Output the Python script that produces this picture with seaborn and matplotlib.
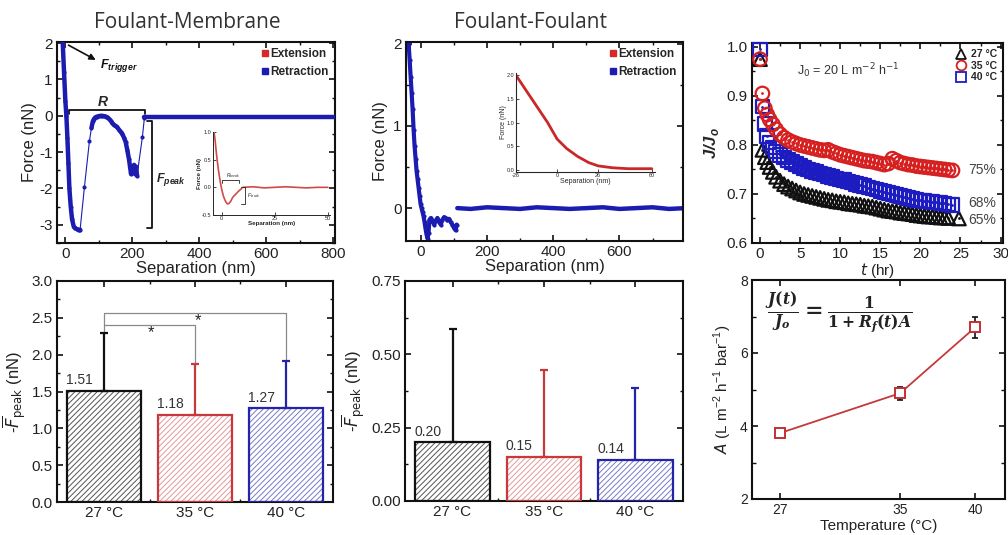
import numpy as np
import pandas as pd
import matplotlib
matplotlib.use("Agg")
import matplotlib.pyplot as plt
import seaborn as sns
from matplotlib.lines import Line2D
from matplotlib.ticker import MultipleLocator, FixedLocator, FormatStrFormatter

# ---------------- data ----------------
# Foulant-Membrane retraction curve (nm, nN)
fm_sep = [-8, -4, 0, 3, 6, 9, 12, 16, 20, 25, 30, 35, 40, 44,
          57, 72, 78,
          82, 86, 90, 95, 100, 105, 110, 115, 120, 125, 130, 135, 140, 145, 150, 155,
          160, 165, 170, 175, 180, 185, 190, 193, 196, 199, 202, 205, 208, 211, 214,
          230, 236]
fm_force = [2.03, 1.2, 0.4, 0.0, -0.6, -1.3, -2.0, -2.5, -2.85, -3.05, -3.1, -3.12, -3.15, -3.13,
            -1.95, -0.68, -0.33,
            -0.15, -0.08, -0.04, -0.02, -0.01, 0.0, 0.0, -0.01, -0.02, -0.04, -0.08, -0.13, -0.2, -0.25, -0.28, -0.32,
            -0.38, -0.44, -0.5, -0.6, -0.72, -0.95, -1.2, -1.4, -1.6, -1.4, -1.55, -1.35, -1.6, -1.4, -1.65,
            -0.58, -0.05]
fm_base_sep = [236, 300, 400, 500, 600, 700, 805]
fm_base_force = [-0.02, -0.02, -0.02, -0.02, -0.02, -0.02, -0.02]

# inset (foulant-membrane)
fmi_sep = [-3.5, -3, -2.5, -2, -1.5, -1, -0.5, 0, 0.5, 1, 1.5, 2, 2.5, 3, 3.5, 4, 4.5, 5, 5.5, 6, 8, 9.5]
fmi_force = [1.0, 0.85, 0.65, 0.48, 0.33, 0.2, 0.08, -0.02, -0.1, -0.17, -0.22, -0.26, -0.29, -0.30,
             -0.29, -0.27, -0.24, -0.2, -0.17, -0.15, -0.07, -0.02]
fmi_base_sep = [10, 15, 20, 25, 30, 35, 40, 45, 50]
fmi_base_force = [0.0, 0.01, -0.01, 0.0, 0.01, 0.0, -0.01, 0.0, 0.0]

# Foulant-Foulant retraction curve
ff_sep = [-37, -34, -31, -28, -25, -22, -19, -16, -13, -10, -7, -4, -1, 2, 5, 8, 11, 14, 17, 20, 23, 26,
          30, 35, 40, 45, 50, 55, 60, 65, 70, 75, 80, 85, 90, 95, 100, 105, 108]
ff_force = [2.0, 1.8, 1.6, 1.4, 1.2, 0.95, 0.75, 0.6, 0.45, 0.35, 0.25, 0.15, 0.05, 0.0, -0.05, -0.1,
            -0.17, -0.25, -0.32, -0.37, -0.3, -0.14,
            -0.12, -0.16, -0.2, -0.15, -0.12, -0.17, -0.2, -0.14, -0.11, -0.12, -0.15, -0.13, -0.17, -0.2,
            -0.24, -0.27, -0.2]
ff_base_sep = [110, 150, 200, 250, 300, 350, 400, 450, 500, 550, 600, 650, 700, 750, 800]
ff_base_force = [0.0, -0.01, 0.01, 0.0, -0.01, 0.01, 0.0, -0.01, 0.0, 0.01, -0.01, 0.0, 0.01, -0.01, 0.0]

# inset (foulant-foulant extension)
ffi_sep = [-26, -20, -13, -6, 0, 6, 13, 20, 26, 35, 45, 60]
ffi_force = [2.0, 1.7, 1.35, 1.0, 0.65, 0.45, 0.28, 0.15, 0.08, 0.04, 0.02, 0.02]

# Normalised flux J/Jo
time_hr = [0, 0.3, 0.6, 0.9, 1.2, 1.6, 2.0, 2.5, 3, 3.5, 4, 4.5, 5, 5.5, 6, 6.5, 7, 7.5, 8, 8.5, 9, 9.5,
           10, 10.5, 11, 11.5, 12, 12.5, 13, 13.5, 14, 14.5, 15, 15.5, 16, 16.5, 17, 17.5, 18, 18.5,
           19, 19.5, 20, 20.5, 21, 21.5, 22, 22.5, 23, 23.5, 24]
flux_27 = [0.975, 0.790, 0.775, 0.765, 0.755, 0.745, 0.735, 0.727, 0.720, 0.715, 0.711, 0.707, 0.703,
           0.700, 0.698, 0.696, 0.694, 0.692, 0.690, 0.688, 0.687, 0.685, 0.684, 0.683, 0.681, 0.680,
           0.679, 0.678, 0.676, 0.675, 0.674, 0.672, 0.670, 0.668, 0.666, 0.665, 0.664, 0.662, 0.661,
           0.660, 0.659, 0.657, 0.656, 0.655, 0.654, 0.654, 0.653, 0.652, 0.652, 0.651, 0.650]
flux_35 = [0.975, 0.905, 0.875, 0.862, 0.852, 0.842, 0.832, 0.822, 0.815, 0.810, 0.806, 0.803, 0.800,
           0.798, 0.796, 0.794, 0.792, 0.790, 0.789, 0.790, 0.786, 0.783, 0.780, 0.778, 0.776, 0.774,
           0.772, 0.770, 0.768, 0.767, 0.766, 0.764, 0.762, 0.760, 0.762, 0.772, 0.768, 0.764, 0.762,
           0.760, 0.759, 0.757, 0.756, 0.755, 0.754, 0.753, 0.752, 0.751, 0.750, 0.749, 0.748]
flux_40 = [0.995, 0.878, 0.843, 0.818, 0.805, 0.795, 0.787, 0.780, 0.774, 0.769, 0.765, 0.761, 0.757,
           0.753, 0.750, 0.747, 0.745, 0.742, 0.740, 0.737, 0.735, 0.732, 0.730, 0.728, 0.725, 0.723,
           0.720, 0.718, 0.716, 0.713, 0.711, 0.709, 0.706, 0.704, 0.702, 0.700, 0.698, 0.696, 0.694,
           0.692, 0.690, 0.688, 0.687, 0.686, 0.685, 0.684, 0.683, 0.682, 0.681, 0.679, 0.677]
flux_end_labels = ["75%", "68%", "65%"]

# Bars
temp_labels = ["27 °C", "35 °C", "40 °C"]
fm_peak = [1.51, 1.18, 1.27]
fm_err = [0.79, 0.69, 0.65]
ff_peak = [0.20, 0.15, 0.14]
ff_err = [0.385, 0.295, 0.245]

# A vs temperature
temp_c = [27, 35, 40]
A_val = [3.81, 4.90, 6.70]
A_err = [0.06, 0.18, 0.30]

# ---------------- style ----------------
sns.set_theme(style="ticks")
plt.rcParams["font.family"] = ["Liberation Sans", "DejaVu Sans"]
plt.rcParams["axes.unicode_minus"] = False
plt.rcParams["mathtext.fontset"] = "dejavusans"
plt.rcParams["mathtext.rm"] = "DejaVu Serif:bold"
plt.rcParams["mathtext.it"] = "DejaVu Serif:italic:bold"
plt.rcParams["mathtext.bf"] = "DejaVu Serif:bold"
plt.rcParams["hatch.linewidth"] = 0.7

W, H = 1008, 535
fig = plt.figure(figsize=(W / 100, H / 100), dpi=100)

BLUE = "#1c1cb0"
RED = "#d42a2a"
TXT = "#222222"


def rect(l, t, r, b):
    return [l / W, 1 - b / H, (r - l) / W, (b - t) / H]


def frame(ax, labelsize=11):
    for s in ax.spines.values():
        s.set_linewidth(1.5)
        s.set_color("#111111")
    ax.tick_params(which="both", direction="in", top=True, right=True, color="#111111")
    ax.tick_params(which="major", length=4, width=1.2, labelsize=labelsize, pad=3, labelcolor=TXT)
    ax.tick_params(which="minor", length=2.5, width=1)


def thick_runs(ax, xs, ys, color, lw, gap):
    xs = np.asarray(xs)
    ys = np.asarray(ys)
    cut = np.where(np.diff(xs) > gap)[0] + 1
    for sx, sy in zip(np.split(xs, cut), np.split(ys, cut)):
        if len(sx) > 1:
            ax.plot(sx, sy, color=color, lw=lw, solid_capstyle="round", zorder=3)


# titles
fig.text(187 / W, 1 - 22 / H, "Foulant-Membrane", ha="center", va="center", fontsize=15,
         family=["Open Sans", "DejaVu Sans"], color="#333333")
fig.text(531 / W, 1 - 22 / H, "Foulant-Foulant", ha="center", va="center", fontsize=15,
         family=["Open Sans", "DejaVu Sans"], color="#333333")

# ---------------- top-left ----------------
ax1 = fig.add_axes(rect(57, 42, 335, 243))
df1 = pd.DataFrame({"sep": fm_sep, "force": fm_force})
sns.lineplot(data=df1, x="sep", y="force", ax=ax1, color=BLUE, lw=0.8, marker="o", markersize=3,
             markeredgewidth=0, sort=False, estimator=None, zorder=2)
thick_runs(ax1, fm_sep, fm_force, BLUE, 3.2, 5.5)
ax1.plot(fm_base_sep, fm_base_force, color=BLUE, lw=3.2, zorder=3)
ax1.set_xlim(-25, 805)
ax1.set_ylim(-3.5, 2.03)
ax1.xaxis.set_major_locator(MultipleLocator(200))
ax1.xaxis.set_minor_locator(MultipleLocator(100))
ax1.yaxis.set_major_locator(MultipleLocator(1))
ax1.yaxis.set_minor_locator(MultipleLocator(0.5))
frame(ax1)
ax1.set_xlabel("Separation (nm)", fontsize=12, labelpad=0, color=TXT)
ax1.set_ylabel("Force (nN)", fontsize=12, labelpad=2, color=TXT)
# annotations
ax1.annotate("", xy=(98, 1.5), xytext=(2, 1.98),
             arrowprops=dict(arrowstyle="-|>", color="#111111", lw=1.2, mutation_scale=9))
ax1.text(104, 1.38, r"F$_{\mathregular{trigger}}$", fontsize=9, fontweight="bold", style="italic",
         va="center", ha="left", color="#111111")
ax1.plot([10, 10, 237, 237], [0.04, 0.16, 0.16, 0.04], color="#111111", lw=1.3)
ax1.text(113, 0.38, "R", fontsize=10, fontweight="bold", style="italic", ha="center", va="center")
ax1.plot([245, 260, 260, 245], [-0.14, -0.14, -3.08, -3.08], color="#111111", lw=1.3)
ax1.text(272, -1.76, r"F$_{\mathregular{peak}}$", fontsize=9, fontweight="bold", style="italic",
         ha="left", va="center")
leg_h = [Line2D([], [], ls="", marker="s", color=RED, markersize=4.5),
         Line2D([], [], ls="", marker="s", color=BLUE, markersize=4.5)]
ax1.legend(leg_h, ["Extension", "Retraction"], loc="upper right", frameon=False,
           prop=dict(weight="bold", size=8.5), handletextpad=0.1, borderaxespad=0.3,
           labelspacing=0.5, handlelength=0.8, borderpad=0.2)

# inset 1
ai1 = fig.add_axes(rect(213, 132, 330, 215))
sns.lineplot(x=fmi_sep, y=fmi_force, ax=ai1, color="#d04a4a", lw=1.2, sort=False, estimator=None)
ai1.plot(fmi_base_sep, fmi_base_force, color="#d04a4a", lw=1.2)
ai1.set_xlim(-4, 51)
ai1.set_ylim(-0.5, 1.0)
ai1.set_xticks([0, 25, 50])
ai1.set_yticks([-0.5, 0.0, 0.5, 1.0])
ai1.yaxis.set_major_formatter(FormatStrFormatter("%.1f"))
ai1.spines["top"].set_visible(False)
ai1.spines["right"].set_visible(False)
for s in ai1.spines.values():
    s.set_linewidth(0.7)
ai1.tick_params(direction="in", length=2, width=0.6, labelsize=4, pad=1, top=False, right=False)
ai1.set_xlabel("Separation (nm)", fontsize=4.5, labelpad=0, fontweight="bold")
ai1.set_ylabel("Force (nN)", fontsize=4.5, labelpad=0, fontweight="bold")
ai1.plot([0, 0, 8, 8], [0.08, 0.14, 0.14, 0.08], color="#222222", lw=0.6)
ai1.text(2, 0.19, r"R$_{\mathregular{break}}$", fontsize=3.5, style="italic")
ai1.plot([9, 11, 11, 9], [0.0, 0.0, -0.3, -0.3], color="#222222", lw=0.6)
ai1.text(12, -0.17, r"F$_{\mathregular{break}}$", fontsize=3.5, style="italic")
ai1.set_facecolor("none")

# ---------------- top-middle ----------------
ax2 = fig.add_axes(rect(406, 42, 683, 241))
df2 = pd.DataFrame({"sep": ff_sep, "force": ff_force})
sns.lineplot(data=df2, x="sep", y="force", ax=ax2, color=BLUE, lw=3.0, marker="o", markersize=3,
             markeredgewidth=0, sort=False, estimator=None)
ax2.plot(ff_base_sep, ff_base_force, color=BLUE, lw=3.2)
ax2.set_xlim(-45, 792)
ax2.set_ylim(-0.4, 2.02)
ax2.xaxis.set_major_locator(MultipleLocator(200))
ax2.xaxis.set_minor_locator(MultipleLocator(100))
ax2.yaxis.set_major_locator(MultipleLocator(1))
ax2.yaxis.set_minor_locator(MultipleLocator(0.5))
frame(ax2)
ax2.set_xlabel("Separation (nm)", fontsize=12, labelpad=0, color=TXT)
ax2.set_ylabel("Force (nN)", fontsize=12, labelpad=4, color=TXT)
ax2.legend(leg_h, ["Extension", "Retraction"], loc="upper right", frameon=False,
           prop=dict(weight="bold", size=8.5), handletextpad=0.1, borderaxespad=0.3,
           labelspacing=0.5, handlelength=0.8, borderpad=0.2)

ai2 = fig.add_axes(rect(516, 73, 655, 172))
sns.lineplot(x=ffi_sep, y=ffi_force, ax=ai2, color="#c82828", lw=2.0, sort=False, estimator=None)
ai2.set_xlim(-26, 62)
ai2.set_ylim(-0.05, 2.05)
ai2.set_xticks([-26, 0, 26, 60])
ai2.set_yticks([0.0, 0.5, 1.0, 1.5, 2.0])
ai2.yaxis.set_major_formatter(FormatStrFormatter("%.1f"))
ai2.spines["top"].set_visible(False)
ai2.spines["right"].set_visible(False)
for s in ai2.spines.values():
    s.set_linewidth(0.8)
ai2.tick_params(direction="in", length=2, width=0.6, labelsize=4, pad=1)
ai2.set_xlabel("Separation (nm)", fontsize=5, labelpad=0)
ai2.set_ylabel("Force (nN)", fontsize=5, labelpad=0)
ai2.set_facecolor("none")

# ---------------- top-right ----------------
ax3 = fig.add_axes(rect(752, 43, 1003, 243))
series = [(flux_27, "^", "#111111"), (flux_40, "s", "#1c1cc0"), (flux_35, "o", "#d62020")]
for i, (vals, mk, col) in enumerate(series):
    tt = list(time_hr)
    if mk == "^":
        tt[-1] = 24.8
    sns.scatterplot(x=tt, y=vals, ax=ax3, marker=mk, s=95, facecolor="none", edgecolor=col,
                    linewidth=1.6, zorder=3 + i, clip_on=False)
    sns.scatterplot(x=tt, y=vals, ax=ax3, marker="o", s=4, color=col, linewidth=0, zorder=3 + i,
                    clip_on=False)
ax3.set_xlim(-1, 30.3)
ax3.set_ylim(0.6, 1.008)
ax3.xaxis.set_major_locator(MultipleLocator(5))
ax3.xaxis.set_minor_locator(MultipleLocator(2.5))
ax3.yaxis.set_major_locator(MultipleLocator(0.1))
ax3.yaxis.set_minor_locator(MultipleLocator(0.05))
ax3.yaxis.set_major_formatter(FormatStrFormatter("%.1f"))
frame(ax3)
ax3.set_xlabel(r"$t$ (hr)", fontsize=11, labelpad=0, color=TXT)
ax3.set_ylabel("J/J$_\\mathregular{o}$", fontsize=12, fontweight="bold", style="italic", labelpad=4)
ax3.text(11.0, 0.951, r"J$_0$ = 20 L m$^{-2}$ h$^{-1}$", fontsize=9, ha="center", va="center",
         color="#333333")
for lab, yv in zip(flux_end_labels, [0.748, 0.682, 0.647]):
    ax3.text(26.0, yv, lab, fontsize=10, ha="left", va="center", color="#444444")
h3 = [Line2D([], [], ls="", marker="^", mfc="none", mec="#111111", mew=1.3, markersize=7),
      Line2D([], [], ls="", marker="o", mfc="none", mec="#d62020", mew=1.3, markersize=7),
      Line2D([], [], ls="", marker="s", mfc="none", mec="#1c1cc0", mew=1.3, markersize=7)]
ax3.legend(h3, ["27 °C", "35 °C", "40 °C"], loc="upper right", frameon=False,
           prop=dict(weight="bold", size=7.5), handletextpad=0.4, borderaxespad=0.4,
           labelspacing=0.15, handlelength=1.0, borderpad=0.2)


# ---------------- bar charts ----------------
def bar_panel(ax, vals, errs, ylim, step, fmt, lab_off):
    df = pd.DataFrame({"temp": temp_labels, "val": vals})
    hatch_cols = ["#555555", "#e39a9a", "#7a7ac8"]
    edge_cols = ["#111111", "#c8383c", "#2424a8"]
    sns.barplot(data=df, x="temp", y="val", hue="temp", palette=hatch_cols, legend=False,
                width=0.82, errorbar=None, ax=ax)
    for p, hc in zip(ax.patches, hatch_cols):
        p.set_facecolor("white")
        p.set_edgecolor(hc)
        p.set_hatch("//////")
        p.set_linewidth(0)
    pos = np.arange(len(vals))
    ax.bar(pos, vals, width=0.82, fill=False, edgecolor=edge_cols, linewidth=1.6, zorder=3)
    for x, v, e, c in zip(pos, vals, errs, edge_cols):
        ax.errorbar([x], [v], yerr=[[0], [e]], fmt="none", ecolor=c, elinewidth=1.6,
                    capsize=3, capthick=1.6, zorder=2)
        ax.text(x - 0.27, v + lab_off, f"{v:.2f}", ha="center", va="bottom", fontsize=10,
                color="#333333")
    ax.set_xlim(-0.52, 2.52)
    ax.set_ylim(*ylim)
    ax.yaxis.set_major_locator(MultipleLocator(step))
    ax.yaxis.set_minor_locator(MultipleLocator(step / 2))
    ax.yaxis.set_major_formatter(FormatStrFormatter(fmt))
    ax.xaxis.set_minor_locator(FixedLocator([0.5, 1.5]))
    frame(ax)
    ax.set_xlabel("")
    ax.set_ylabel(r"-$\overline{F}_{\mathrm{peak}}$ (nN)", fontsize=12, color=TXT, labelpad=3)


ax4 = fig.add_axes(rect(57, 281, 333, 502))
bar_panel(ax4, fm_peak, fm_err, (0, 3.0), 0.5, "%.1f", 0.05)
gray = "#8a8a8a"
ax4.plot([0, 0, 1, 1], [2.30, 2.40, 2.40, 1.87], color=gray, lw=0.9, zorder=1)
ax4.plot([0, 0, 2, 2], [2.40, 2.57, 2.57, 1.92], color=gray, lw=0.9, zorder=1)
ax4.text(0.52, 2.30, "*", ha="center", va="center", fontsize=12, color="#222222")
ax4.text(1.03, 2.46, "*", ha="center", va="center", fontsize=12, color="#222222")

ax5 = fig.add_axes(rect(405, 281, 683, 501))
bar_panel(ax5, ff_peak, ff_err, (0, 0.75), 0.25, "%.2f", 0.012)

# ---------------- bottom-right ----------------
ax6 = fig.add_axes(rect(752, 280, 1005, 499))
ax6.errorbar(temp_c, A_val, yerr=A_err, fmt="none", ecolor="#111111", elinewidth=1.2,
             capsize=2.5, capthick=1.2, zorder=2)
sns.lineplot(x=temp_c, y=A_val, ax=ax6, color="#c43a3a", lw=1.3, marker="s", markersize=6.5,
             markerfacecolor="white", markeredgecolor="#c43030", markeredgewidth=1.4, zorder=3)
ax6.set_xlim(25.1, 42)
ax6.set_ylim(2, 8)
ax6.set_xticks(temp_c)
ax6.yaxis.set_major_locator(MultipleLocator(2))
ax6.yaxis.set_minor_locator(MultipleLocator(1))
frame(ax6, labelsize=10)
ax6.tick_params(which="minor", length=3)
ax6.set_xlabel("Temperature (°C)", fontsize=11, labelpad=1, color=TXT)
ax6.set_ylabel(r"$A$ (L m$^{\mathregular{-2}}$ h$^{\mathregular{-1}}$ bar$^{\mathregular{-1}}$)",
               fontsize=11, labelpad=4, color=TXT)
ax6.text(0.05, 0.85, r"$\frac{J(t)}{J_o} = \frac{1}{1 + R_f(t)A}$", transform=ax6.transAxes,
         fontsize=16, ha="left", va="center", math_fontfamily="custom", color="#222222")

fig.savefig("out.png", dpi=100)
